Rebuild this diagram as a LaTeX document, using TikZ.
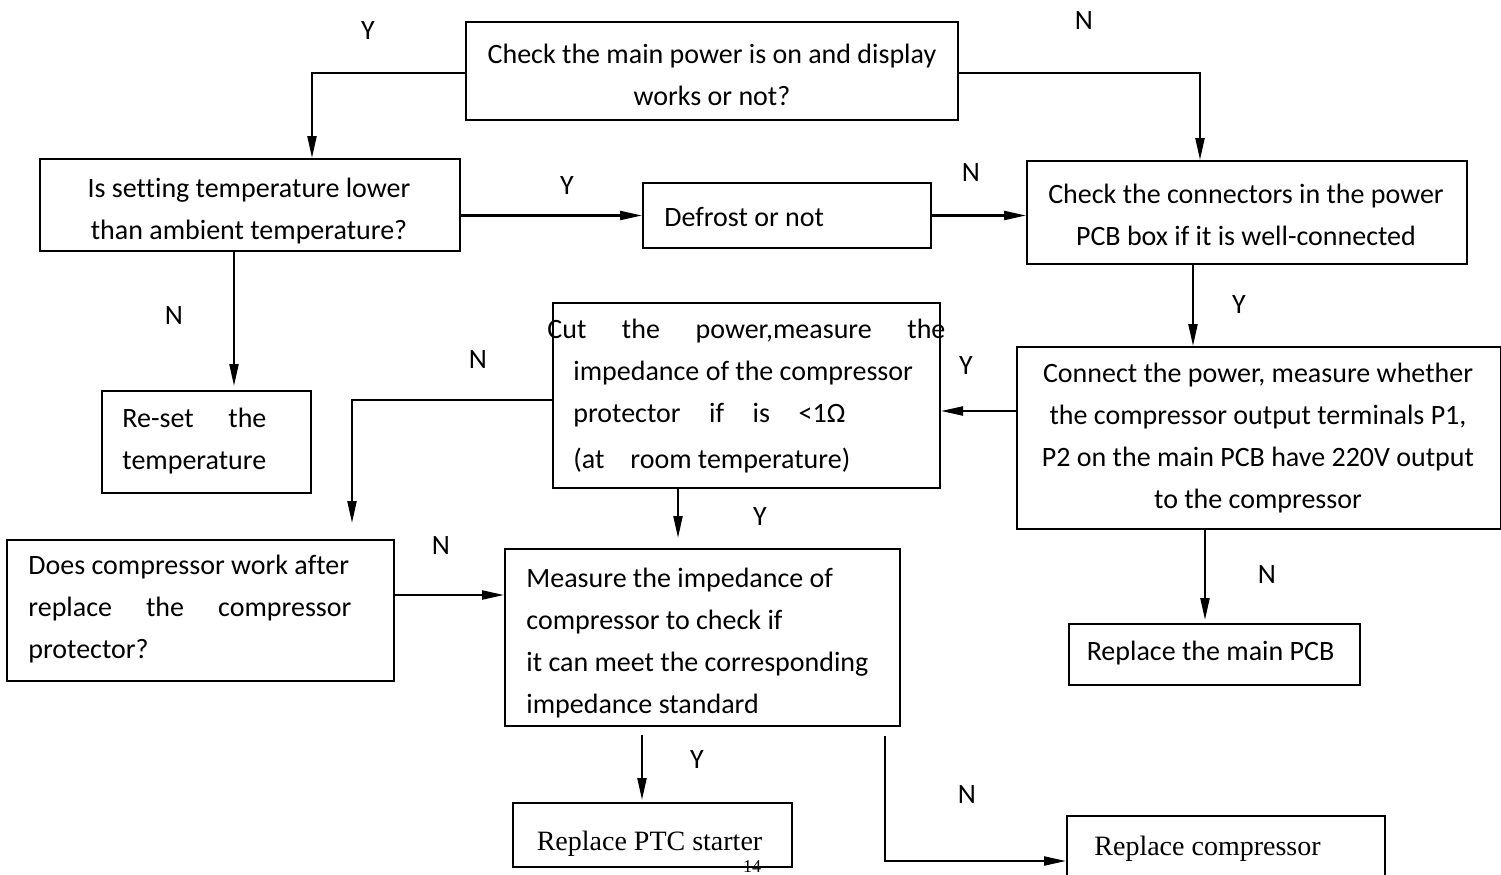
\documentclass[tikz,border=0pt]{standalone}
\usepackage{fontspec}
\setmainfont{Carlito}[Ligatures={NoCommon}]
\newfontfamily\serifb{Liberation Serif}
\usetikzlibrary{arrows.meta,calc}
\begin{document}
\begin{tikzpicture}[x=0.5pt,y=-0.5pt,
  box/.style={draw, line width=1pt, inner sep=0pt, anchor=north west},
  txt/.style={inner sep=0pt, font=\fontsize{14}{21}\selectfont},
  ser/.style={inner sep=0pt, font=\serifb\fontsize{14}{17}\selectfont},
  lbl/.style={inner sep=0pt, font=\fontsize{14}{16}\selectfont},
  arr/.style={line width=1.1pt, -{Triangle[length=11pt,width=4.5pt]}},
]
\useasboundingbox (0,0) rectangle (1501,874);

% boxes
\node[box, minimum width=246pt, minimum height=49pt] (b1) at (465,21) {};
\node[box, minimum width=210pt, minimum height=46pt] (b2) at (39,158) {};
\node[box, minimum width=144pt, minimum height=32.5pt] (b3) at (642,182) {};
\node[box, minimum width=220pt, minimum height=51.5pt] (b4) at (1026,160) {};
\node[box, minimum width=104.5pt, minimum height=51pt] (b5) at (101,390) {};
\node[box, minimum width=193.5pt, minimum height=92.5pt] (b6) at (552,302) {};
\node[box, minimum width=242pt, minimum height=91pt] (b7) at (1016,346) {};
\node[box, minimum width=193.5pt, minimum height=70.5pt] (b8) at (6,539) {};
\node[box, minimum width=197.5pt, minimum height=88.5pt] (b9) at (504,548) {};
\node[box, minimum width=145.5pt, minimum height=30.5pt] (b10) at (1068,623) {};
\node[box, minimum width=139.5pt, minimum height=32pt] (b11) at (512,802) {};
\node[box, minimum width=159pt, minimum height=45pt] (b12) at (1066,815) {};

% texts
\node[txt, align=center] (t1) at (712,75) {Check the main power is on and display\\works or not?};
\node[txt, align=center] (t2) at (249,211.5) {Is setting temperature lower\\than ambient temperature?};
\node[txt, anchor=west] (t3) at (664,217) {Defrost or not};
\node[txt, align=center] (t4) at (1246,214.5) {Check the connectors in the power\\PCB box if it is well-connected};
\node[txt, align=left, anchor=west] (t5) at (122,441) {\makebox[72pt][s]{Re-set the}\\temperature};
\node[txt, align=left, anchor=west] (t6) at (573,396.5) {\hspace*{-13pt}\makebox[199pt][s]{Cut the power,measure the}\\impedance of the compressor\\\makebox[136pt][s]{protector if is <1Ω}\\[2pt](at\hspace{13pt}room temperature)};
\node[txt, align=center] (t7) at (1258,438.5) {Connect the power, measure whether\\the compressor output terminals P1,\\P2 on the main PCB have 220V output\\to the compressor};
\node[txt, align=left, anchor=west] (t8) at (28,609.5) {Does compressor work after\\\makebox[161.5pt][s]{replace the compressor}\\protector?};
\node[txt, align=left, anchor=west] (t9) at (526,643) {Measure the impedance of\\compressor to check if\\it can meet the corresponding\\impedance standard};
\node[txt] (t10) at (1210.5,653) {Replace the main PCB};
\node[ser] (t11) at (649.5,844) {Replace PTC starter};
\node[ser, anchor=west] (t12) at (1094,849) {Replace compressor};
\node[inner sep=0pt, anchor=south, font=\serifb\fontsize{9}{11}\selectfont] (pg) at (752,873) {14};

% labels
\node[lbl] (l1) at (368,31) {Y};
\node[lbl] (l2) at (1084,21) {N};
\node[lbl] (l3) at (567,186) {Y};
\node[lbl] (l4) at (971,173) {N};
\node[lbl] (l5) at (174,316) {N};
\node[lbl] (l6) at (1239,305) {Y};
\node[lbl] (l7) at (478,360) {N};
\node[lbl] (l8) at (966,366) {Y};
\node[lbl] (l9) at (760,517) {Y};
\node[lbl] (l10) at (441,546) {N};
\node[lbl] (l11) at (697,760) {Y};
\node[lbl] (l12) at (967,795) {N};
\node[lbl] (l13) at (1267,575) {N};

% connectors
\coordinate (p2) at ($(b2.north west)+(273,0)$);
\coordinate (q1) at ($(b1.west)+(0,2)$);
\draw[arr] (q1) -| (p2);
\coordinate (p4) at ($(b4.north west)+(174,0)$);
\coordinate (q4) at ($(b1.east)+(0,2)$);
\draw[arr] (q4) -| (p4);
\draw[arr] (b3.west -| b2.east) -- (b3.west);
\draw[arr] (b3.east) -- (b3.east -| b4.west);
\coordinate (p5) at ($(b5.north west)+(133,-4)$);
\draw[arr] (b2.south -| p5) -- (p5);
\coordinate (p7) at ($(b7.north west)+(177,0)$);
\draw[arr] (b4.south -| p7) -- (p7);
\coordinate (p6) at ($(b6.north east)+(0,109)$);
\draw[arr] (p6 -| b7.west) -- (p6);
\coordinate (q6) at ($(b6.north west)+(0,98)$);
\coordinate (p8) at ($(b8.north west)+(346,-16)$);
\draw[arr] (q6) -| (p8);
\coordinate (p9) at ($(b9.north west)+(174,-10)$);
\draw[arr] (b6.south -| p9) -- (p9);
\coordinate (p10) at ($(b9.north west)+(0,47)$);
\draw[arr] (p10 -| b8.east) -- (p10);
\coordinate (p11) at ($(b11.north west)+(130,-2)$);
\coordinate (s11) at (b9.south -| p11);
\draw[arr] ($(s11)+(0,8)$) -- (p11);
\coordinate (s12) at ($(b9.south east)+(-16,9)$);
\draw[arr] (s12) |- (b12.west);
\coordinate (p13) at ($(b10.north west)+(137,-3)$);
\draw[arr] (b7.south -| p13) -- (p13);
\end{tikzpicture}
\end{document}
